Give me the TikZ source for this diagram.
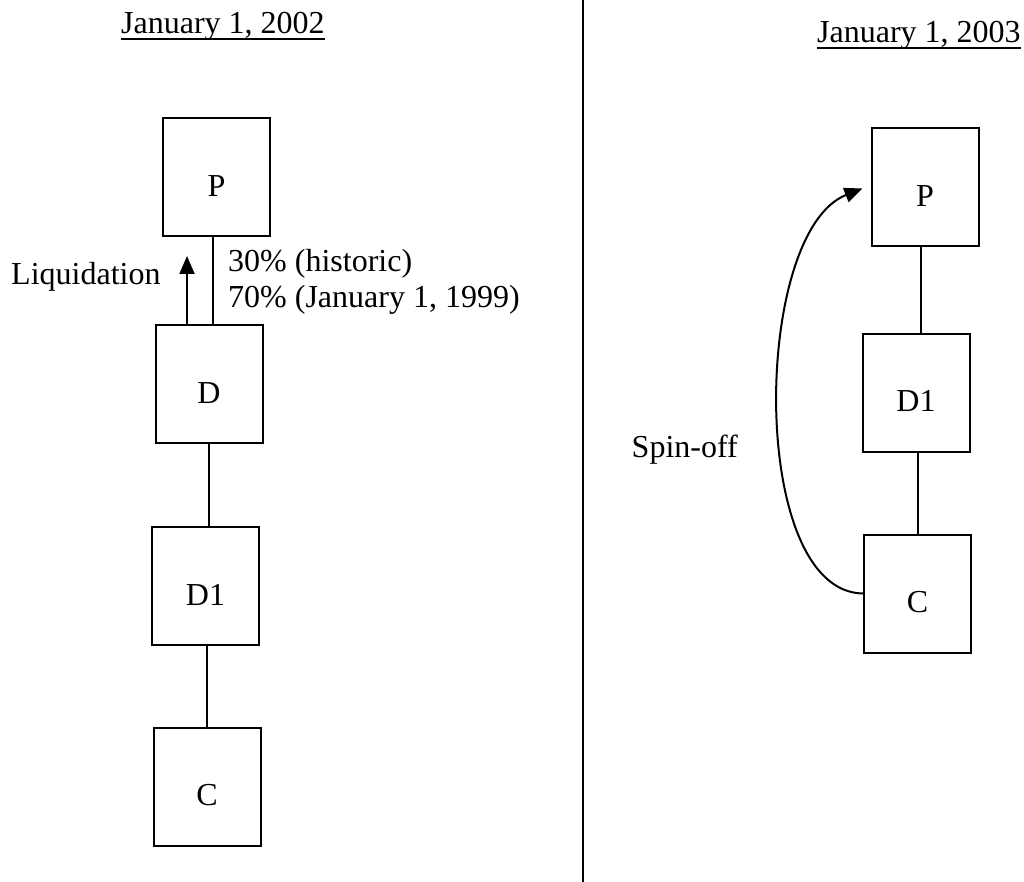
\documentclass[tikz,border=0pt]{standalone}
\usepackage{fontspec}
\setmainfont{Liberation Serif}
\usetikzlibrary{arrows.meta,calc}
\begin{document}
\begin{tikzpicture}[x=1pt,y=-1pt,
  every node/.style={font=\fontsize{32}{38}\selectfont},
  box/.style={draw,line width=2pt,minimum width=107pt,minimum height=118pt,
    text height=38pt,text depth=0pt,inner sep=0pt},
  txt/.style={inner sep=0pt},
  conn/.style={line width=2pt},
  arr/.style={line width=2pt,-{Triangle[length=18pt,width=15pt]}},
  uline/.style={line width=2.2pt}]
\useasboundingbox (0,0) rectangle (1024,882);
% divider
\coordinate (divtop) at (583,0);
\coordinate (divbot) at (583,882);
\draw[line width=2.2pt] (divtop) -- (divbot);
% titles
\node[txt,anchor=base west] (t1) at (121,34) {January 1, 2002};
\node[txt,anchor=base west] (t2) at (817,43) {January 1, 2003};
\draw[uline] ([yshift=-5pt]t1.base west) -- ([yshift=-5pt]t1.base east);
\draw[uline] ([yshift=-5pt]t2.base west) -- ([yshift=-5pt]t2.base east);
% left boxes
\node[box] (P1) at (216.5,177.5) {P};
\node[box] (D) at (209,384) {D};
\node[box] (D1) at (205.5,586) {D1};
\node[box] (C1) at (207,786.5) {C};
% left connectors
\draw[conn] ($(P1.south)!.5!(P1.south -| D.north)$) -- ($(D.north)!.5!(D.north -| P1.south)$);
\draw[conn] (D.south) -- (D.south |- D1.north);
\draw[conn] (C1.north |- D1.south) -- (C1.north);
% liquidation arrow
\coordinate (liqtail) at ([xshift=-22pt]D.north);
\path (liqtail) ++(0,-68) coordinate (liqtip);
\draw[arr] (liqtail) -- (liqtip);
\node[txt,anchor=base west] (liq) at (11,285) {Liquidation};
\node[txt,anchor=base west] (pct1) at (228,272) {30\% (historic)};
\node[txt,anchor=base west] (pct2) at (228,307) {70\% (January 1, 1999)};
% right boxes
\node[box] (P2) at (925,187.5) {P};
\node[box] (D1r) at (916,392.5) {D1};
\node[box] (C2) at (917.5,593.5) {C};
\draw[conn] ($(P2.south)!.5!(P2.south -| D1r.north)$) -- ($(D1r.north)!.5!(D1r.north -| P2.south)$);
\draw[conn] (C2.north |- D1r.south) -- (C2.north);
% spin-off curve
\draw[arr] (C2.west) .. controls (748,592) and (752,232) .. ([xshift=-8pt,yshift=-1pt]P2.west);
\node[txt,anchor=base east] (spin) at (738,457) {Spin-off};
\end{tikzpicture}
\end{document}
